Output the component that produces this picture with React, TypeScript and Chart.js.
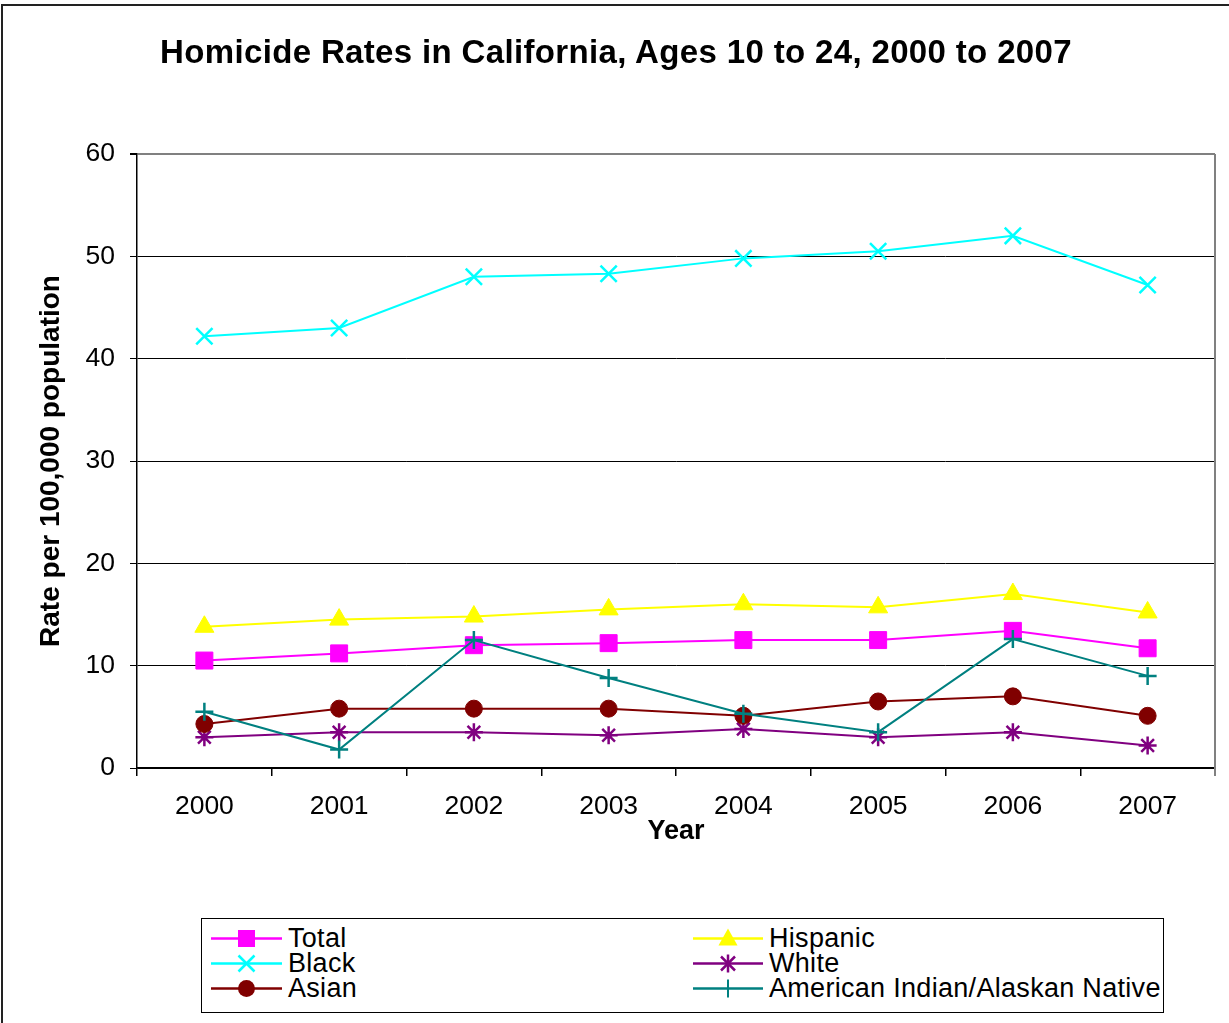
import React, { useEffect, useRef } from "react";
import { Chart, registerables } from "chart.js";

Chart.register(...registerables);

const years = ["2000", "2001", "2002", "2003", "2004", "2005", "2006", "2007"];
const total = [10.5, 11.2, 12.0, 12.2, 12.5, 12.5, 13.4, 11.7];
const hispanic = [13.8, 14.5, 14.8, 15.5, 16.0, 15.7, 17.0, 15.2];
const black = [42.2, 43.0, 48.0, 48.3, 49.8, 50.5, 52.0, 47.2];
const white = [3.0, 3.5, 3.5, 3.2, 3.8, 3.0, 3.5, 2.2];
const asian = [4.3, 5.8, 5.8, 5.8, 5.1, 6.5, 7.0, 5.1];
const aian = [5.5, 1.8, 12.5, 8.8, 5.3, 3.5, 12.6, 9.0];

const FONT = "'Liberation Sans', Arial, sans-serif";

type Series = {
  label: string;
  data: number[];
  color: string;
  style: string;
  radius: number;
  filled: boolean;
};

const series: Series[] = [
  { label: "Total", data: total, color: "#FF00FF", style: "rect", radius: 12, filled: true },
  { label: "Hispanic", data: hispanic, color: "#FFFF00", style: "triangle", radius: 11, filled: true },
  { label: "Black", data: black, color: "#00FFFF", style: "crossRot", radius: 11.5, filled: false },
  { label: "White", data: white, color: "#800080", style: "star", radius: 9, filled: false },
  { label: "Asian", data: asian, color: "#800000", style: "circle", radius: 8.5, filled: true },
  { label: "American Indian/Alaskan Native", data: aian, color: "#008080", style: "cross", radius: 9, filled: false },
];

const plotBorder = {
  id: "plotBorder",
  beforeDatasetsDraw(chart: any) {
    const { ctx, chartArea } = chart;
    ctx.save();
    ctx.strokeStyle = "#808080";
    ctx.lineWidth = 2;
    ctx.beginPath();
    ctx.moveTo(chartArea.right, chartArea.top);
    ctx.lineTo(chartArea.right, chartArea.bottom + 8);
    ctx.stroke();
    ctx.restore();
  },
};

function Marker({ s, cx, cy }: { s: Series; cx: number; cy: number }) {
  const c = s.color;
  switch (s.style) {
    case "rect":
      return <rect x={cx - 8.5} y={cy - 8.5} width={17} height={17} fill={c} />;
    case "triangle":
      return (
        <polygon
          points={`${cx},${cy - 10} ${cx - 9.5},${cy + 7} ${cx + 9.5},${cy + 7}`}
          fill={c}
        />
      );
    case "crossRot":
      return (
        <g stroke={c} strokeWidth={2.5}>
          <line x1={cx - 8} y1={cy - 8} x2={cx + 8} y2={cy + 8} />
          <line x1={cx - 8} y1={cy + 8} x2={cx + 8} y2={cy - 8} />
        </g>
      );
    case "star":
      return (
        <g stroke={c} strokeWidth={2.5}>
          <line x1={cx - 7} y1={cy - 7} x2={cx + 7} y2={cy + 7} />
          <line x1={cx - 7} y1={cy + 7} x2={cx + 7} y2={cy - 7} />
          <line x1={cx} y1={cy - 9} x2={cx} y2={cy + 9} />
        </g>
      );
    case "circle":
      return <circle cx={cx} cy={cy} r={8.5} fill={c} />;
    case "cross":
      return (
        <g stroke={c} strokeWidth={2}>
          <line x1={cx} y1={cy - 9} x2={cx} y2={cy + 9} />
        </g>
      );
    default:
      return null;
  }
}

export default function App() {
  const canvasRef = useRef<HTMLCanvasElement | null>(null);

  useEffect(() => {
    if (!canvasRef.current) return;
    const n = series.length;
    const chart = new Chart(canvasRef.current, {
      type: "line",
      data: {
        labels: years,
        datasets: series.map((s, i) => ({
          label: s.label,
          data: s.data,
          borderColor: s.color,
          backgroundColor: s.color,
          borderWidth: 2,
          tension: 0,
          pointStyle: s.style as any,
          pointRadius: s.radius,
          pointHoverRadius: s.radius,
          pointBackgroundColor: s.color,
          pointBorderColor: s.color,
          pointBorderWidth: s.filled ? 1 : 2.5,
          order: n - 1 - i,
        })),
      },
      options: {
        responsive: false,
        animation: false,
        devicePixelRatio: 1,
        layout: { padding: { left: 0, top: 154, right: 14, bottom: 175 } },
        plugins: {
          legend: { display: false },
          title: { display: false },
          tooltip: { enabled: false },
        },
        scales: {
          x: {
            type: "category",
            offset: true,
            afterFit: (scale: any) => {
              scale.height = 80;
            },
            grid: {
              display: true,
              drawOnChartArea: false,
              drawTicks: true,
              offset: true,
              tickLength: 8,
              color: "#000000",
              tickColor: "#000000",
              lineWidth: 1.5,
            },
            border: { display: true, color: "#000000", width: 1.5 },
            ticks: {
              color: "#000000",
              font: { family: FONT, size: 26.5 },
              padding: 15,
              maxRotation: 0,
              autoSkip: false,
            },
            title: {
              display: true,
              text: "Year",
              color: "#000000",
              font: { family: FONT, size: 27, weight: "bold" },
              padding: { top: 0, bottom: 0 },
            },
          },
          y: {
            min: 0,
            max: 60,
            afterFit: (scale: any) => {
              scale.width = 137;
            },
            grid: {
              color: (ctx: any) => (ctx.tick && ctx.tick.value === 60 ? "#808080" : "#000000"),
              lineWidth: (ctx: any) => (ctx.tick && ctx.tick.value === 60 ? 2 : 1),
              tickColor: "#000000",
              tickLength: 7,
              drawTicks: true,
            },
            border: { display: true, color: "#000000", width: 1.5 },
            ticks: {
              stepSize: 10,
              color: "#000000",
              font: { family: FONT, size: 26.5 },
              padding: 15,
            },
            title: {
              display: true,
              text: "Rate per 100,000 population",
              color: "#000000",
              font: { family: FONT, size: 28, weight: "bold" },
              padding: { top: 34, bottom: 0 },
            },
          },
        },
      },
      plugins: [plotBorder],
    });
    return () => chart.destroy();
  }, []);

  const legendCols = [
    { lineX1: 211, lineX2: 282, markerX: 246.5, textX: 288 },
    { lineX1: 693, lineX2: 763, markerX: 728, textX: 769 },
  ];
  const rowCenters = [938.5, 963.5, 988.5];

  return (
    <div
      style={{
        position: "absolute",
        left: 0,
        top: 0,
        width: 1229,
        height: 1023,
        overflow: "hidden",
        background: "#ffffff",
        fontFamily: FONT,
      }}
    >
      <div
        style={{
          position: "absolute",
          left: 1,
          top: 4,
          width: 1260,
          height: 1060,
          border: "2px solid #222222",
          boxSizing: "border-box",
        }}
      />
      <canvas
        ref={canvasRef}
        width={1229}
        height={1023}
        style={{ position: "absolute", left: 0, top: 0, width: 1229, height: 1023 }}
      />
      <div
        style={{
          position: "absolute",
          left: 0,
          top: 32,
          width: 1232,
          textAlign: "center",
          fontSize: 33,
          lineHeight: "40px",
          fontWeight: "bold",
          letterSpacing: "0.35px",
          color: "#000",
          whiteSpace: "nowrap",
        }}
      >
        Homicide Rates in California, Ages 10 to 24, 2000 to 2007
      </div>
      <div
        style={{
          position: "absolute",
          left: 201,
          top: 918,
          width: 963,
          height: 95,
          border: "1.5px solid #000",
          boxSizing: "border-box",
          background: "#fff",
        }}
      />
      <svg
        width={1229}
        height={1023}
        style={{ position: "absolute", left: 0, top: 0, pointerEvents: "none" }}
      >
        {series.map((s, i) => {
          const col = legendCols[i % 2];
          const cy = rowCenters[Math.floor(i / 2)];
          return (
            <g key={s.label}>
              <line x1={col.lineX1} y1={cy} x2={col.lineX2} y2={cy} stroke={s.color} strokeWidth={2.5} />
              <Marker s={s} cx={col.markerX} cy={cy} />
            </g>
          );
        })}
      </svg>
      {series.map((s, i) => {
        const col = legendCols[i % 2];
        const cy = rowCenters[Math.floor(i / 2)];
        return (
          <div
            key={s.label}
            style={{
              position: "absolute",
              left: col.textX,
              top: cy - 13,
              fontSize: 27,
              letterSpacing: "0.3px",
              lineHeight: "25px",
              color: "#000",
              whiteSpace: "nowrap",
            }}
          >
            {s.label}
          </div>
        );
      })}
    </div>
  );
}
